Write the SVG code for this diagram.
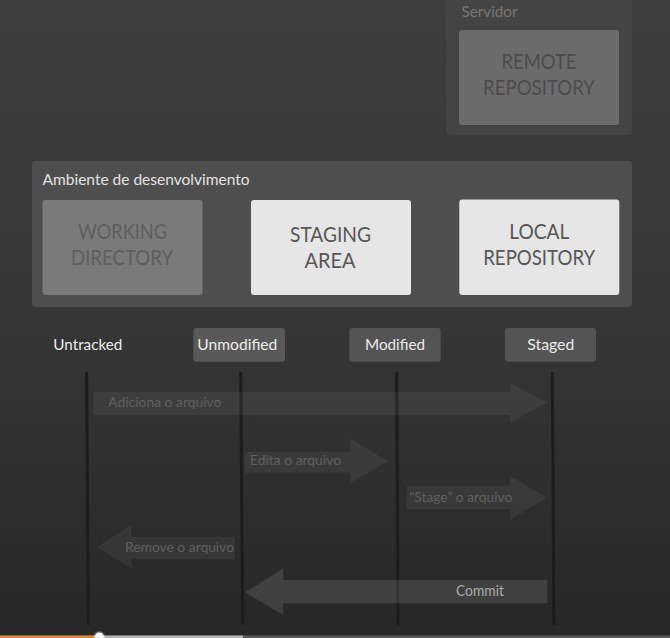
<svg xmlns="http://www.w3.org/2000/svg" width="670" height="638" viewBox="0 0 670 638">
  <defs>
    <linearGradient id="bg" x1="0" y1="0" x2="0" y2="1">
      <stop offset="0" stop-color="#3e3e3e"/>
      <stop offset="0.5" stop-color="#363636"/>
      <stop offset="1" stop-color="#272727"/>
    </linearGradient>
    <style>
      text { font-family: Lato, "Open Sans", "Liberation Sans", sans-serif; }
      .big { font-size: 20.5px; text-anchor: middle; }
      .state { font-size: 16px; fill: #ececec; }
      .lbl { font-size: 14px; fill: #606060; }
      .life { stroke: #1c1c1c; stroke-width: 3; fill: none; }
      .arrow { fill: #ffffff; fill-opacity: 0.055; }
    </style>
  </defs>

  <rect width="670" height="638" fill="url(#bg)"/>

  <g id="servidor">
    <rect x="446" y="-6" width="186" height="141" rx="4" fill="#444444"/>
    <text x="461.5" y="16.7" font-size="15" fill="#777777" textLength="56" lengthAdjust="spacingAndGlyphs">Servidor</text>
  </g>
  <g id="remote-repository">
    <rect x="459" y="30" width="160" height="95" rx="3" fill="#6b6b6b"/>
    <text class="big" x="539" y="68.5" fill="#4c4c4c" textLength="75" lengthAdjust="spacingAndGlyphs">REMOTE</text>
    <text class="big" x="539" y="94.5" fill="#4c4c4c" textLength="112" lengthAdjust="spacingAndGlyphs">REPOSITORY</text>
  </g>

  <g id="ambiente">
    <rect x="32" y="161" width="600" height="146" rx="4" fill="#4e4e4e"/>
    <text x="42.5" y="184.5" font-size="16" fill="#e2e2e2" textLength="207" lengthAdjust="spacingAndGlyphs">Ambiente de desenvolvimento</text>
  </g>
  <g id="working-directory">
    <rect x="42.5" y="200" width="160" height="95" rx="3" fill="#7a7a7a"/>
    <text class="big" x="122.5" y="238.5" fill="#5e5e5e" textLength="89" lengthAdjust="spacingAndGlyphs">WORKING</text>
    <text class="big" x="122" y="265" fill="#5e5e5e" textLength="102" lengthAdjust="spacingAndGlyphs">DIRECTORY</text>
  </g>
  <g id="staging-area">
    <rect x="251" y="200" width="160" height="95" rx="3" fill="#e6e6e6"/>
    <text class="big" x="330.5" y="242" fill="#575757" textLength="81" lengthAdjust="spacingAndGlyphs">STAGING</text>
    <text class="big" x="330" y="268.3" fill="#575757" textLength="51" lengthAdjust="spacingAndGlyphs">AREA</text>
  </g>
  <g id="local-repository">
    <rect x="459.3" y="199.5" width="160" height="95.5" rx="3" fill="#e6e6e6"/>
    <text class="big" x="539.3" y="239" fill="#575757" textLength="60" lengthAdjust="spacingAndGlyphs">LOCAL</text>
    <text class="big" x="539.2" y="265" fill="#575757" textLength="112" lengthAdjust="spacingAndGlyphs">REPOSITORY</text>
  </g>

  <g id="untracked">
    <text class="state" x="53.3" y="350" textLength="69" lengthAdjust="spacingAndGlyphs">Untracked</text>
  </g>
  <g id="unmodified">
    <rect x="193.3" y="328" width="91.7" height="33.7" rx="3" fill="#595959"/>
    <text class="state" x="197.3" y="350" textLength="80" lengthAdjust="spacingAndGlyphs">Unmodified</text>
  </g>
  <g id="modified">
    <rect x="349.3" y="328" width="91.4" height="33.7" rx="3" fill="#545454"/>
    <text class="state" x="365" y="350" textLength="60" lengthAdjust="spacingAndGlyphs">Modified</text>
  </g>
  <g id="staged">
    <rect x="505" y="328" width="91" height="33.7" rx="3" fill="#545454"/>
    <text class="state" x="527.3" y="350" textLength="47" lengthAdjust="spacingAndGlyphs">Staged</text>
  </g>

  <g id="connectors">
    <line class="life" x1="86.7" y1="372" x2="88.3" y2="625"/>
    <line class="life" x1="240.7" y1="372" x2="242.7" y2="625"/>
    <line class="life" x1="396.7" y1="372" x2="398" y2="625"/>
    <line class="life" x1="552.3" y1="372" x2="554" y2="625"/>

    <polygon class="arrow" points="93.3,391.7 510,391.7 510,382.7 547,402.5 510,423 510,415 93.3,415"/>
    <text class="lbl" x="108.3" y="407.3" textLength="113" lengthAdjust="spacingAndGlyphs">Adiciona o arquivo</text>

    <polygon class="arrow" points="245,451.7 350,451.7 350,438.3 388,461 350,483.5 350,472.7 245,472.7"/>
    <text class="lbl" x="250" y="465" textLength="91" lengthAdjust="spacingAndGlyphs">Edita o arquivo</text>

    <polygon class="arrow" points="406.7,486 510,486 510,476 547,497.5 510,520 510,509.3 406.7,509.3"/>
    <text class="lbl" x="409.3" y="501.7" textLength="103" lengthAdjust="spacingAndGlyphs">“Stage” o arquivo</text>

    <polygon class="arrow" points="235,536.7 131.7,536.7 131.7,525 96.7,547 131.7,568.5 131.7,559 235,559"/>
    <text class="lbl" x="125" y="551.7" textLength="109" lengthAdjust="spacingAndGlyphs">Remove o arquivo</text>

    <polygon points="547.3,580 283.3,580 283.3,568.3 245,592.3 283.3,615 283.3,603.3 547.3,603.3" fill="#ffffff" fill-opacity="0.11"/>
    <text x="456" y="595.7" font-size="14.5" fill="#a9a9a9" textLength="48" lengthAdjust="spacingAndGlyphs">Commit</text>
  </g>

  <g id="progress-bar">
    <rect x="0" y="635.5" width="670" height="2.5" fill="#5a5a5a"/>
    <rect x="99" y="635.5" width="144" height="2.5" fill="#b5b5b5"/>
    <rect x="0" y="635.5" width="99" height="2.5" fill="#e3862c"/>
    <circle cx="99.3" cy="637" r="6" fill="#ffffff" fill-opacity="0.25"/>
    <circle cx="99.3" cy="637" r="4.5" fill="#ffffff"/>
  </g>
</svg>
